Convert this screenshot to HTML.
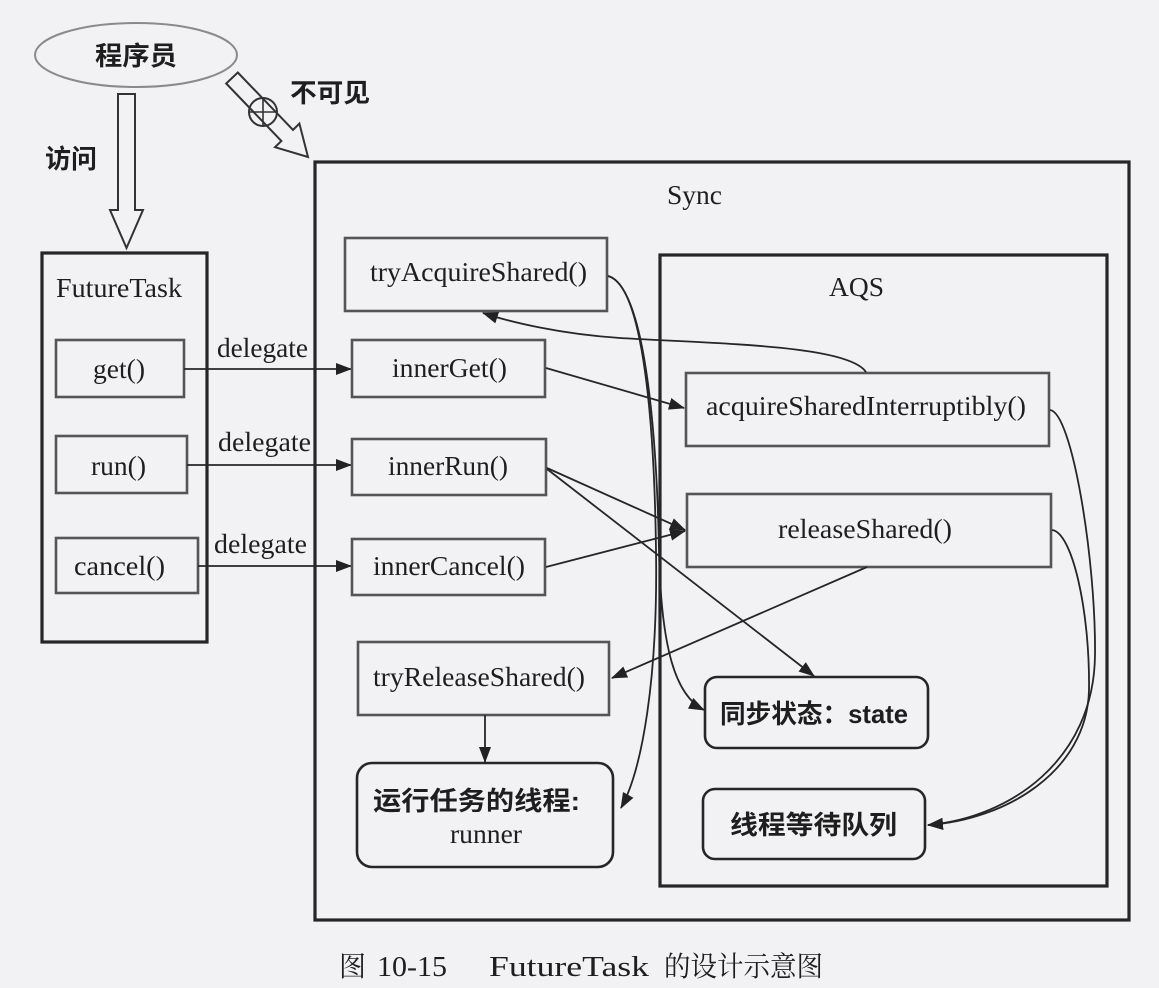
<!DOCTYPE html>
<html><head><meta charset="utf-8"><style>
html,body{margin:0;padding:0;background:#f2f2f4;}
svg{display:block;}
.lat{font-family:"Liberation Serif","Noto Serif CJK SC",serif;font-size:27px;fill:#1e1e1e;}
.cjk{font-family:"Liberation Sans","Noto Sans CJK SC",sans-serif;font-weight:bold;font-size:26px;fill:#1e1e1e;}
.cap{font-family:"Liberation Serif","Noto Serif CJK SC",serif;font-size:28px;fill:#1e1e1e;}
.mbox{fill:none;stroke:#555;stroke-width:2.6;}
.cont{fill:none;stroke:#262626;stroke-width:3.2;}
.rbox{fill:none;stroke:#262626;stroke-width:2.6;}
.ln{fill:none;stroke:#262626;stroke-width:1.8;}
</style></head><body>
<svg width="1159" height="988" viewBox="0 0 1159 988" xmlns="http://www.w3.org/2000/svg">
<defs>
<marker id="ah" markerUnits="userSpaceOnUse" markerWidth="16" markerHeight="12" refX="15" refY="6" orient="auto">
<path d="M0,0 L16,6 L0,12 z" fill="#222"/>
</marker>
</defs>
<rect width="1159" height="988" fill="#f2f2f4"/>

<!-- programmer ellipse -->
<ellipse cx="136" cy="55" rx="101" ry="32" fill="none" stroke="#8a8a8a" stroke-width="2"/>
<text class="cjk" x="95" y="65" font-size="27" textLength="82" lengthAdjust="spacingAndGlyphs">程序员</text>

<!-- down hollow arrow -->
<polygon points="118,94 135,94 135,210 143,210 126.5,248 110,210 118,210" fill="#f2f2f4" stroke="#333" stroke-width="2"/>
<text class="cjk" x="45" y="168" textLength="52" lengthAdjust="spacingAndGlyphs">访问</text>

<!-- diagonal hollow arrow with crossed circle -->
<polygon points="237.8,72.5 293,129.9 299.4,123.6 308,157 275,147.2 281.4,141 226.2,83.5" fill="#f2f2f4" stroke="#333" stroke-width="2"/>
<circle cx="263" cy="112" r="14" fill="none" stroke="#333" stroke-width="2"/>
<line x1="263" y1="98" x2="263" y2="126" stroke="#333" stroke-width="1.6"/>
<line x1="249" y1="112" x2="277" y2="112" stroke="#333" stroke-width="1.6"/>
<text class="cjk" x="290" y="102" textLength="80" lengthAdjust="spacingAndGlyphs">不可见</text>

<!-- FutureTask container -->
<rect class="cont" x="42" y="253" width="165" height="389"/>
<text class="lat" x="56" y="297" textLength="126" lengthAdjust="spacingAndGlyphs">FutureTask</text>
<rect class="mbox" x="56" y="340" width="128" height="57"/>
<text class="lat" x="93" y="378" textLength="52" lengthAdjust="spacingAndGlyphs">get()</text>
<rect class="mbox" x="56" y="436" width="131" height="57"/>
<text class="lat" x="91" y="475" textLength="55" lengthAdjust="spacingAndGlyphs">run()</text>
<rect class="mbox" x="56" y="538" width="142" height="55"/>
<text class="lat" x="74" y="575" textLength="91" lengthAdjust="spacingAndGlyphs">cancel()</text>

<!-- delegate arrows -->
<text class="lat" x="217" y="357" textLength="91" lengthAdjust="spacingAndGlyphs">delegate</text>
<text class="lat" x="218" y="451" textLength="93" lengthAdjust="spacingAndGlyphs">delegate</text>
<text class="lat" x="214" y="553" textLength="93" lengthAdjust="spacingAndGlyphs">delegate</text>
<line class="ln" x1="184" y1="369" x2="351" y2="369" marker-end="url(#ah)"/>
<line class="ln" x1="187" y1="465" x2="351" y2="465" marker-end="url(#ah)"/>
<line class="ln" x1="198" y1="566" x2="351" y2="566" marker-end="url(#ah)"/>

<!-- Sync container -->
<rect class="cont" x="315" y="162" width="814" height="758"/>
<text class="lat" x="667" y="204" textLength="55" lengthAdjust="spacingAndGlyphs">Sync</text>

<rect class="mbox" x="345" y="238" width="262" height="73"/>
<text class="lat" x="370" y="281" textLength="217" lengthAdjust="spacingAndGlyphs">tryAcquireShared()</text>
<rect class="mbox" x="352" y="340" width="193" height="57"/>
<text class="lat" x="392" y="377" textLength="115" lengthAdjust="spacingAndGlyphs">innerGet()</text>
<rect class="mbox" x="352" y="439" width="194" height="56"/>
<text class="lat" x="388" y="475" textLength="120" lengthAdjust="spacingAndGlyphs">innerRun()</text>
<rect class="mbox" x="352" y="539" width="193" height="56"/>
<text class="lat" x="373" y="575" textLength="152" lengthAdjust="spacingAndGlyphs">innerCancel()</text>
<rect class="mbox" x="358" y="642" width="251" height="73"/>
<text class="lat" x="373" y="686" textLength="212" lengthAdjust="spacingAndGlyphs">tryReleaseShared()</text>

<rect class="rbox" x="357" y="763" width="256" height="104" rx="15" ry="15"/>
<text class="cjk" x="373" y="810" font-size="27" textLength="207" lengthAdjust="spacingAndGlyphs">运行任务的线程:</text>
<text class="lat" x="450" y="843" textLength="72" lengthAdjust="spacingAndGlyphs">runner</text>

<!-- AQS container -->
<rect class="cont" x="660" y="255" width="447" height="631"/>
<text class="lat" x="829" y="296" textLength="55" lengthAdjust="spacingAndGlyphs">AQS</text>
<rect class="mbox" x="686" y="373" width="363" height="73"/>
<text class="lat" x="706" y="415" textLength="320" lengthAdjust="spacingAndGlyphs">acquireSharedInterruptibly()</text>
<rect class="mbox" x="687" y="494" width="364" height="73"/>
<text class="lat" x="778" y="538" textLength="174" lengthAdjust="spacingAndGlyphs">releaseShared()</text>

<rect class="rbox" x="705" y="677" width="223" height="71" rx="12" ry="12"/>
<text class="cjk" x="720" y="723" textLength="188" lengthAdjust="spacingAndGlyphs">同步状态：state</text>
<rect class="rbox" x="703" y="789" width="222" height="70" rx="12" ry="12"/>
<text class="cjk" x="730" y="834" font-size="27" textLength="167" lengthAdjust="spacingAndGlyphs">线程等待队列</text>

<!-- connectors -->
<line class="ln" x1="546" y1="368" x2="684" y2="408" marker-end="url(#ah)"/>
<path class="ln" d="M866 372 C848 345 720 344 620 338 C560 334 510 322 483 313" marker-end="url(#ah)"/>
<line class="ln" x1="547" y1="468" x2="685" y2="530" marker-end="url(#ah)"/>
<line class="ln" x1="547" y1="469" x2="814" y2="676" marker-end="url(#ah)"/>
<line class="ln" x1="546" y1="567" x2="685" y2="531" marker-end="url(#ah)"/>
<line class="ln" x1="867" y1="567" x2="612" y2="678" marker-end="url(#ah)"/>
<line class="ln" x1="485" y1="715" x2="485" y2="762" marker-end="url(#ah)"/>
<path class="ln" d="M608 276 C640 284 654 400 656 550 C658 680 642 770 621 808" marker-end="url(#ah)"/>
<path class="ln" d="M608 276 C641 285 656 405 659 550 C661 650 676 696 704 710" marker-end="url(#ah)"/>
<path class="ln" d="M1050 410 C1072 412 1096 560 1095 655 C1094 760 1010 818 928 825" marker-end="url(#ah)"/>
<path class="ln" d="M1052 530 C1072 532 1090 610 1089 690 C1087 772 1005 820 928 825" marker-end="url(#ah)"/>

<!-- caption -->
<text class="cap" x="339" y="976" textLength="27" lengthAdjust="spacingAndGlyphs">图</text>
<text class="cap" x="377" y="976" textLength="70" lengthAdjust="spacingAndGlyphs">10-15</text>
<text class="cap" x="489" y="976" textLength="160" lengthAdjust="spacingAndGlyphs">FutureTask</text>
<text class="cap" x="664" y="976" textLength="159" lengthAdjust="spacingAndGlyphs">的设计示意图</text>
</svg>
</body></html>
